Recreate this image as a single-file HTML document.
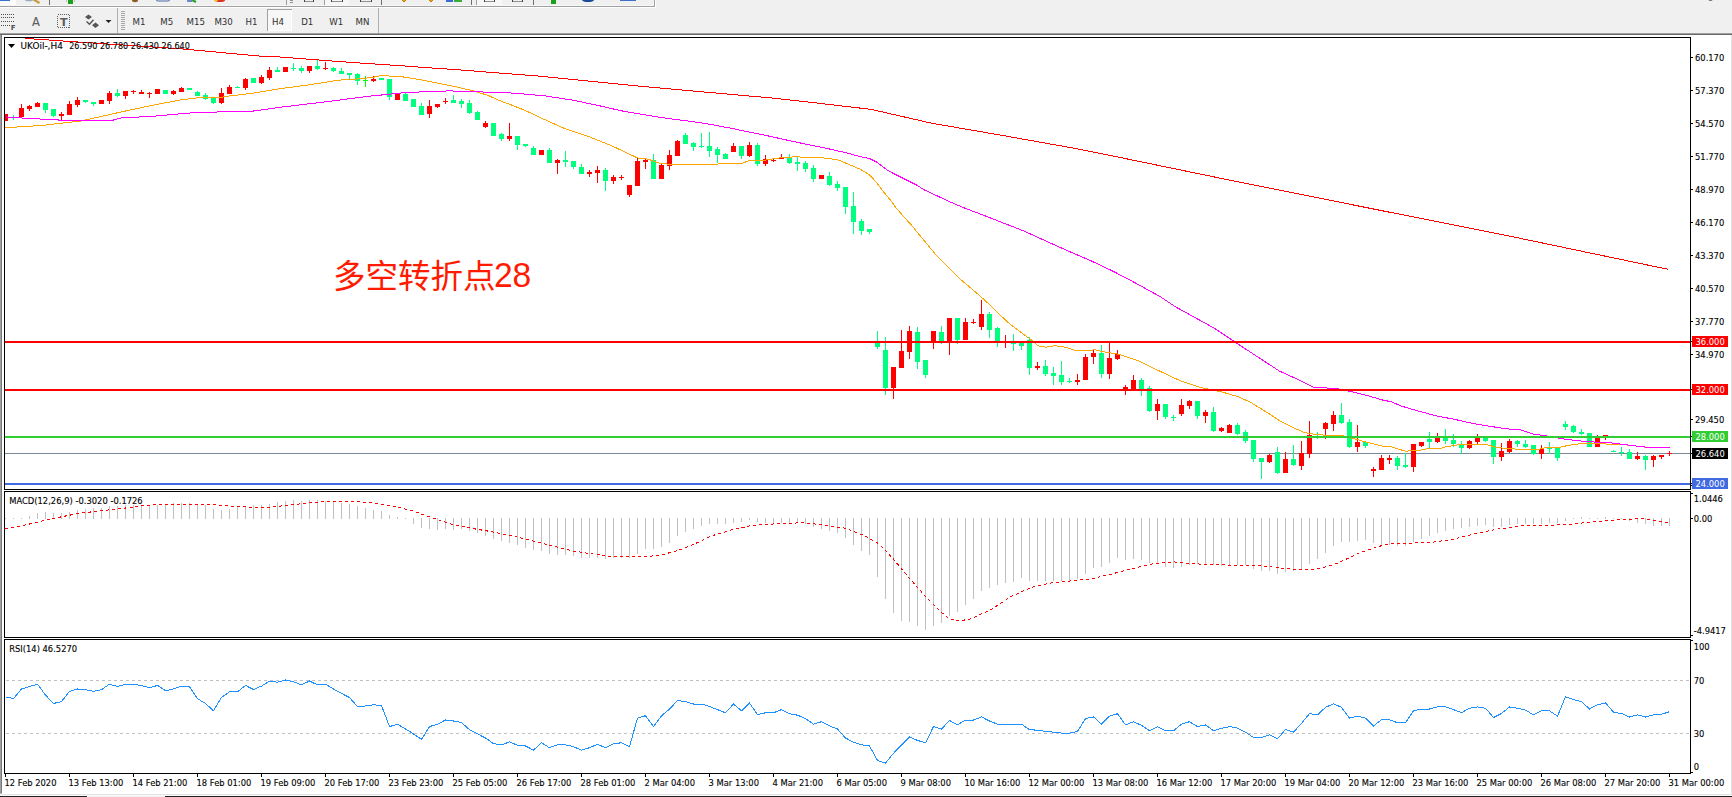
<!DOCTYPE html>
<html><head><meta charset="utf-8"><title>UKOil H4</title><style>html,body{margin:0;padding:0;background:#f0f0f0;}body{width:1732px;height:797px;overflow:hidden;position:relative;}svg text{shape-rendering:auto;}</style></head><body>
<svg width="1732" height="797" viewBox="0 0 1732 797" font-family="'DejaVu Sans', 'Liberation Sans', sans-serif" shape-rendering="crispEdges" style="position:absolute;left:0;top:0">
<defs><clipPath id="cm"><rect x="5" y="38" width="1685" height="451"/></clipPath><clipPath id="cd"><rect x="5" y="492" width="1685" height="145"/></clipPath><clipPath id="cr"><rect x="5" y="640" width="1685" height="133"/></clipPath><clipPath id="cax"><rect x="1691" y="38" width="40" height="452"/></clipPath></defs>
<rect x="0" y="0" width="1732" height="797" fill="#f0f0f0"/>
<rect x="0" y="6" width="654" height="1" fill="#a0a0a0"/>
<rect x="654" y="0" width="1" height="7" fill="#a0a0a0"/>
<rect x="0" y="0" width="16" height="6" fill="#fbfbfb"/>
<rect x="0" y="0" width="10" height="1" fill="#3a70c8"/>
<ellipse cx="29" cy="0" rx="4" ry="1.3" fill="#9aa8c0" shape-rendering="auto"/>
<path d="M33.5,-0.5 L39.5,3" stroke="#c89b3c" stroke-width="2.2" fill="none" shape-rendering="auto"/>
<rect x="49" y="0" width="1" height="5" fill="#707070"/>
<rect x="68" y="0" width="5" height="4" fill="#1aa01a"/>
<rect x="66" y="0" width="1" height="2" fill="#c0c0c0"/>
<rect x="74" y="0" width="1" height="2" fill="#c0c0c0"/>
<ellipse cx="135" cy="0" rx="3" ry="2.2" fill="#8a5a20" shape-rendering="auto"/>
<rect x="156" y="-3" width="14" height="4" rx="2" fill="none" stroke="#4a6aa8" shape-rendering="auto"/>
<path d="M187,1 L192,1" stroke="#6a8ad0" stroke-width="2" shape-rendering="auto"/><path d="M192,0 L196,2" stroke="#2aa02a" stroke-width="2" shape-rendering="auto"/>
<ellipse cx="220" cy="0" rx="5" ry="2" fill="#e03020" shape-rendering="auto"/><ellipse cx="216" cy="0" rx="2" ry="1.5" fill="#f0c020" shape-rendering="auto"/>
<rect x="286" y="0" width="1" height="6" fill="#a0a0a0"/>
<rect x="290" y="0" width="3" height="1" fill="#909090"/>
<rect x="290" y="2" width="3" height="1" fill="#909090"/>
<rect x="304" y="0" width="1" height="2" fill="#404040"/>
<rect x="305" y="1" width="8" height="1" fill="#909090"/>
<rect x="313" y="0" width="1" height="2" fill="#404040"/>
<rect x="324" y="0" width="25" height="5" fill="#f7f7f7"/>
<rect x="324" y="0" width="1" height="5" fill="#a0a0a0"/>
<rect x="331" y="0" width="1" height="2" fill="#404040"/>
<rect x="332" y="1" width="10" height="1" fill="#909090"/>
<rect x="342" y="0" width="1" height="2" fill="#404040"/>
<rect x="360" y="0" width="1" height="2" fill="#404040"/>
<rect x="361" y="1" width="10" height="1" fill="#909090"/>
<rect x="371" y="0" width="1" height="2" fill="#404040"/>
<rect x="381" y="0" width="1" height="5" fill="#707070"/>
<path d="M402,0 L404,2 L406,0" fill="#e0a020" stroke="#c08000" shape-rendering="auto"/>
<path d="M429,0 L431,2 L433,0" fill="#e0a020" stroke="#c08000" shape-rendering="auto"/>
<rect x="446" y="0" width="7" height="2" fill="#3a6ad8"/>
<rect x="454" y="0" width="8" height="2" fill="#3aaa3a"/>
<rect x="471" y="0" width="1" height="5" fill="#707070"/>
<rect x="476" y="0" width="26" height="5" fill="#f7f7f7"/>
<rect x="476" y="0" width="1" height="5" fill="#a0a0a0"/>
<rect x="484" y="0" width="1" height="2" fill="#404040"/>
<rect x="485" y="1" width="9" height="1" fill="#909090"/>
<rect x="494" y="0" width="1" height="2" fill="#404040"/>
<rect x="512" y="0" width="1" height="2" fill="#404040"/>
<rect x="513" y="1" width="9" height="1" fill="#909090"/>
<rect x="522" y="0" width="1" height="2" fill="#404040"/>
<rect x="533" y="0" width="1" height="5" fill="#707070"/>
<rect x="551" y="0" width="5" height="4" fill="#1aa01a"/>
<ellipse cx="588" cy="0" rx="6" ry="2" fill="#1a4a9a" shape-rendering="auto"/>
<rect x="620" y="0" width="16" height="1" fill="#3a70c8"/>
<ellipse cx="1710.5" cy="0" rx="2" ry="1" fill="#707070" shape-rendering="auto"/>
<rect x="0" y="7" width="656" height="1" fill="#ffffff"/>
<rect x="655" y="0" width="1" height="7" fill="#ffffff"/>
<rect x="0" y="5" width="653" height="1" fill="#f8f8f8"/>
<rect x="653" y="0" width="1" height="5" fill="#f6f6f6"/>
<line x1="1" y1="14.5" x2="14" y2="14.5" stroke="#505050" stroke-dasharray="1,1"/>
<line x1="1" y1="17.5" x2="14" y2="17.5" stroke="#505050" stroke-dasharray="1,1"/>
<line x1="1" y1="21.5" x2="14" y2="21.5" stroke="#505050" stroke-dasharray="1,1"/>
<line x1="1" y1="25.5" x2="10" y2="25.5" stroke="#505050" stroke-dasharray="1,1"/>
<text x="10.8" y="29.8" fill="#505050" font-size="7" font-weight="bold">F</text>
<text x="32" y="25.5" fill="#606060" font-size="11.5" stroke="#606060" stroke-width="0.12">A</text>
<rect x="57.5" y="14.5" width="12" height="13" fill="none" stroke="#606060" stroke-dasharray="1,1"/>
<text x="60" y="25.5" fill="#606060" font-size="11" stroke="#606060" stroke-width="0.12" font-weight="bold">T</text>
<path d="M85,17 L88.5,14.5 L92,17 L88.5,19.5 Z M92,25.3 L95.5,22.6 L99,25.3 L95.5,28 Z" fill="#555" shape-rendering="auto"/>
<path d="M86.5,21.5 L89.5,24.3 L93.5,19.8" stroke="#555" stroke-width="1.4" fill="none" shape-rendering="auto"/>
<path d="M105.5,20 L111.5,20 L108.5,23 Z" fill="#222" shape-rendering="auto"/>
<rect x="117" y="8" width="1" height="25" fill="#b0b0b0"/>
<rect x="121" y="11" width="4" height="1" fill="#a8a8a8"/>
<rect x="121" y="13" width="4" height="1" fill="#a8a8a8"/>
<rect x="121" y="15" width="4" height="1" fill="#a8a8a8"/>
<rect x="121" y="17" width="4" height="1" fill="#a8a8a8"/>
<rect x="121" y="19" width="4" height="1" fill="#a8a8a8"/>
<rect x="121" y="21" width="4" height="1" fill="#a8a8a8"/>
<rect x="121" y="23" width="4" height="1" fill="#a8a8a8"/>
<rect x="121" y="25" width="4" height="1" fill="#a8a8a8"/>
<rect x="121" y="27" width="4" height="1" fill="#a8a8a8"/>
<rect x="121" y="29" width="4" height="1" fill="#a8a8a8"/>
<rect x="267" y="9" width="25" height="22" fill="#f7f7f7"/>
<rect x="267" y="9" width="25" height="1" fill="#a0a0a0"/>
<rect x="267" y="9" width="1" height="22" fill="#a0a0a0"/>
<rect x="291" y="10" width="1" height="21" fill="#ffffff"/>
<rect x="268" y="30" width="24" height="1" fill="#ffffff"/>
<text transform="translate(132.5,25) scale(0.93,1)" fill="#303030" font-size="9.3">M1</text>
<text transform="translate(160.3,25) scale(0.93,1)" fill="#303030" font-size="9.3">M5</text>
<text transform="translate(186.5,25) scale(0.93,1)" fill="#303030" font-size="9.3">M15</text>
<text transform="translate(214.4,25) scale(0.93,1)" fill="#303030" font-size="9.3">M30</text>
<text transform="translate(245.6,25) scale(0.93,1)" fill="#303030" font-size="9.3">H1</text>
<text transform="translate(272.1,25) scale(0.93,1)" fill="#303030" font-size="9.3">H4</text>
<text transform="translate(301.2,25) scale(0.93,1)" fill="#303030" font-size="9.3">D1</text>
<text transform="translate(329.2,25) scale(0.93,1)" fill="#303030" font-size="9.3">W1</text>
<text transform="translate(355.5,25) scale(0.93,1)" fill="#303030" font-size="9.3">MN</text>
<rect x="378" y="8" width="1" height="25" fill="#b0b0b0"/>
<rect x="0" y="33" width="1732" height="1" fill="#a0a0a0"/>
<rect x="0" y="34" width="1732" height="1" fill="#696969"/>
<rect x="0" y="35" width="1" height="759" fill="#a0a0a0"/>
<rect x="1" y="35" width="1" height="759" fill="#7a7a7a"/>
<rect x="0" y="794" width="2" height="2" fill="#f4f4f4"/>
<rect x="2" y="35" width="1729" height="759" fill="#ffffff"/>
<rect x="1731" y="35" width="1" height="760" fill="#e3e3e3"/>
<rect x="2" y="794" width="1729" height="1" fill="#e3e3e3"/>
<rect x="1" y="793" width="1" height="1" fill="#c8c8c8"/>
<rect x="2" y="795" width="1730" height="1" fill="#fafafa"/>
<rect x="0" y="796" width="87" height="1" fill="#202020"/>
<rect x="87" y="796" width="78" height="1" fill="#f0f0f0"/>
<rect x="165" y="796" width="1567" height="1" fill="#202020"/>
<rect x="4" y="37" width="1687" height="1" fill="#000"/>
<rect x="4" y="489" width="1687" height="1" fill="#000"/>
<rect x="4" y="37" width="1" height="453" fill="#000"/>
<rect x="1690" y="37" width="1" height="453" fill="#000"/>
<rect x="4" y="491" width="1687" height="1" fill="#000"/>
<rect x="4" y="637" width="1687" height="1" fill="#000"/>
<rect x="4" y="491" width="1" height="147" fill="#000"/>
<rect x="1690" y="491" width="1" height="147" fill="#000"/>
<rect x="4" y="639" width="1687" height="1" fill="#000"/>
<rect x="4" y="773" width="1687" height="1" fill="#000"/>
<rect x="4" y="639" width="1" height="135" fill="#000"/>
<rect x="1690" y="639" width="1" height="135" fill="#000"/>
<g clip-path="url(#cm)">
<rect x="5" y="453" width="1685" height="1" fill="#778899"/>
<rect x="5" y="114" width="1" height="7" fill="#ff0000"/>
<rect x="3" y="114" width="5" height="7" fill="#ff0000"/>
<rect x="13" y="115" width="1" height="5" fill="#00ff7f"/>
<rect x="11" y="117" width="5" height="1" fill="#00ff7f"/>
<rect x="21" y="104" width="1" height="13" fill="#ff0000"/>
<rect x="19" y="108" width="5" height="9" fill="#ff0000"/>
<rect x="29" y="105" width="1" height="6" fill="#ff0000"/>
<rect x="27" y="106" width="5" height="3" fill="#ff0000"/>
<rect x="37" y="102" width="1" height="5" fill="#ff0000"/>
<rect x="35" y="103" width="5" height="4" fill="#ff0000"/>
<rect x="45" y="103" width="1" height="10" fill="#00ff7f"/>
<rect x="43" y="103" width="5" height="7" fill="#00ff7f"/>
<rect x="53" y="109" width="1" height="8" fill="#00ff7f"/>
<rect x="51" y="109" width="5" height="7" fill="#00ff7f"/>
<rect x="61" y="112" width="1" height="8" fill="#ff0000"/>
<rect x="59" y="114" width="5" height="2" fill="#ff0000"/>
<rect x="69" y="101" width="1" height="14" fill="#ff0000"/>
<rect x="67" y="104" width="5" height="11" fill="#ff0000"/>
<rect x="77" y="97" width="1" height="10" fill="#ff0000"/>
<rect x="75" y="100" width="5" height="5" fill="#ff0000"/>
<rect x="85" y="100" width="1" height="3" fill="#00ff7f"/>
<rect x="83" y="100" width="5" height="2" fill="#00ff7f"/>
<rect x="93" y="102" width="1" height="4" fill="#00ff7f"/>
<rect x="91" y="102" width="5" height="2" fill="#00ff7f"/>
<rect x="101" y="100" width="1" height="4" fill="#ff0000"/>
<rect x="99" y="100" width="5" height="4" fill="#ff0000"/>
<rect x="109" y="91" width="1" height="13" fill="#ff0000"/>
<rect x="107" y="93" width="5" height="8" fill="#ff0000"/>
<rect x="117" y="89" width="1" height="8" fill="#00ff7f"/>
<rect x="115" y="93" width="5" height="3" fill="#00ff7f"/>
<rect x="125" y="91" width="1" height="8" fill="#ff0000"/>
<rect x="123" y="91" width="5" height="5" fill="#ff0000"/>
<rect x="133" y="90" width="1" height="4" fill="#ff0000"/>
<rect x="131" y="91" width="5" height="1" fill="#ff0000"/>
<rect x="141" y="90" width="1" height="4" fill="#ff0000"/>
<rect x="139" y="92" width="5" height="2" fill="#ff0000"/>
<rect x="149" y="92" width="1" height="6" fill="#ff0000"/>
<rect x="147" y="93" width="5" height="1" fill="#ff0000"/>
<rect x="157" y="89" width="1" height="5" fill="#ff0000"/>
<rect x="155" y="89" width="5" height="5" fill="#ff0000"/>
<rect x="165" y="90" width="1" height="4" fill="#00ff7f"/>
<rect x="163" y="90" width="5" height="4" fill="#00ff7f"/>
<rect x="173" y="90" width="1" height="5" fill="#ff0000"/>
<rect x="171" y="91" width="5" height="3" fill="#ff0000"/>
<rect x="181" y="87" width="1" height="5" fill="#ff0000"/>
<rect x="179" y="88" width="5" height="4" fill="#ff0000"/>
<rect x="189" y="88" width="1" height="2" fill="#00ff7f"/>
<rect x="187" y="88" width="5" height="2" fill="#00ff7f"/>
<rect x="197" y="91" width="1" height="5" fill="#00ff7f"/>
<rect x="195" y="92" width="5" height="4" fill="#00ff7f"/>
<rect x="205" y="93" width="1" height="7" fill="#00ff7f"/>
<rect x="203" y="95" width="5" height="4" fill="#00ff7f"/>
<rect x="213" y="98" width="1" height="6" fill="#00ff7f"/>
<rect x="211" y="98" width="5" height="5" fill="#00ff7f"/>
<rect x="221" y="88" width="1" height="16" fill="#ff0000"/>
<rect x="219" y="93" width="5" height="10" fill="#ff0000"/>
<rect x="229" y="85" width="1" height="9" fill="#ff0000"/>
<rect x="227" y="87" width="5" height="7" fill="#ff0000"/>
<rect x="237" y="86" width="1" height="2" fill="#00ff7f"/>
<rect x="235" y="87" width="5" height="1" fill="#00ff7f"/>
<rect x="245" y="78" width="1" height="12" fill="#ff0000"/>
<rect x="243" y="79" width="5" height="9" fill="#ff0000"/>
<rect x="253" y="78" width="1" height="5" fill="#00ff7f"/>
<rect x="251" y="78" width="5" height="5" fill="#00ff7f"/>
<rect x="261" y="75" width="1" height="9" fill="#ff0000"/>
<rect x="259" y="77" width="5" height="6" fill="#ff0000"/>
<rect x="269" y="67" width="1" height="13" fill="#ff0000"/>
<rect x="267" y="70" width="5" height="8" fill="#ff0000"/>
<rect x="277" y="67" width="1" height="5" fill="#00ff7f"/>
<rect x="275" y="70" width="5" height="2" fill="#00ff7f"/>
<rect x="285" y="67" width="1" height="5" fill="#ff0000"/>
<rect x="283" y="67" width="5" height="5" fill="#ff0000"/>
<rect x="293" y="63" width="1" height="8" fill="#00ff7f"/>
<rect x="291" y="68" width="5" height="1" fill="#00ff7f"/>
<rect x="301" y="66" width="1" height="7" fill="#00ff7f"/>
<rect x="299" y="68" width="5" height="3" fill="#00ff7f"/>
<rect x="309" y="66" width="1" height="7" fill="#ff0000"/>
<rect x="307" y="66" width="5" height="5" fill="#ff0000"/>
<rect x="317" y="60" width="1" height="10" fill="#00ff7f"/>
<rect x="315" y="66" width="5" height="3" fill="#00ff7f"/>
<rect x="325" y="62" width="1" height="8" fill="#ff0000"/>
<rect x="323" y="68" width="5" height="1" fill="#ff0000"/>
<rect x="333" y="67" width="1" height="5" fill="#00ff7f"/>
<rect x="331" y="68" width="5" height="3" fill="#00ff7f"/>
<rect x="341" y="68" width="1" height="6" fill="#00ff7f"/>
<rect x="339" y="71" width="5" height="3" fill="#00ff7f"/>
<rect x="349" y="73" width="1" height="6" fill="#00ff7f"/>
<rect x="347" y="73" width="5" height="2" fill="#00ff7f"/>
<rect x="357" y="73" width="1" height="12" fill="#00ff7f"/>
<rect x="355" y="74" width="5" height="7" fill="#00ff7f"/>
<rect x="365" y="76" width="1" height="11" fill="#00ff00"/>
<rect x="363" y="80" width="5" height="1" fill="#00ff00"/>
<rect x="373" y="76" width="1" height="6" fill="#ff0000"/>
<rect x="371" y="79" width="5" height="2" fill="#ff0000"/>
<rect x="381" y="78" width="1" height="2" fill="#00ff7f"/>
<rect x="379" y="78" width="5" height="2" fill="#00ff7f"/>
<rect x="389" y="79" width="1" height="21" fill="#00ff7f"/>
<rect x="387" y="79" width="5" height="18" fill="#00ff7f"/>
<rect x="397" y="94" width="1" height="6" fill="#ff0000"/>
<rect x="395" y="94" width="5" height="6" fill="#ff0000"/>
<rect x="405" y="93" width="1" height="8" fill="#00ff7f"/>
<rect x="403" y="94" width="5" height="7" fill="#00ff7f"/>
<rect x="413" y="99" width="1" height="8" fill="#00ff7f"/>
<rect x="411" y="99" width="5" height="8" fill="#00ff7f"/>
<rect x="421" y="103" width="1" height="12" fill="#00ff7f"/>
<rect x="419" y="106" width="5" height="9" fill="#00ff7f"/>
<rect x="429" y="100" width="1" height="18" fill="#ff0000"/>
<rect x="427" y="106" width="5" height="8" fill="#ff0000"/>
<rect x="437" y="104" width="1" height="4" fill="#ff0000"/>
<rect x="435" y="104" width="5" height="3" fill="#ff0000"/>
<rect x="445" y="98" width="1" height="6" fill="#ff0000"/>
<rect x="443" y="101" width="5" height="1" fill="#ff0000"/>
<rect x="453" y="95" width="1" height="8" fill="#00ff7f"/>
<rect x="451" y="100" width="5" height="3" fill="#00ff7f"/>
<rect x="461" y="99" width="1" height="9" fill="#00ff7f"/>
<rect x="459" y="101" width="5" height="3" fill="#00ff7f"/>
<rect x="469" y="100" width="1" height="14" fill="#00ff7f"/>
<rect x="467" y="103" width="5" height="10" fill="#00ff7f"/>
<rect x="477" y="111" width="1" height="9" fill="#00ff7f"/>
<rect x="475" y="112" width="5" height="8" fill="#00ff7f"/>
<rect x="485" y="121" width="1" height="7" fill="#ff0000"/>
<rect x="483" y="123" width="5" height="4" fill="#ff0000"/>
<rect x="493" y="123" width="1" height="13" fill="#00ff7f"/>
<rect x="491" y="123" width="5" height="13" fill="#00ff7f"/>
<rect x="501" y="133" width="1" height="8" fill="#00ff7f"/>
<rect x="499" y="134" width="5" height="5" fill="#00ff7f"/>
<rect x="509" y="123" width="1" height="18" fill="#ff0000"/>
<rect x="507" y="136" width="5" height="3" fill="#ff0000"/>
<rect x="517" y="136" width="1" height="14" fill="#00ff7f"/>
<rect x="515" y="136" width="5" height="9" fill="#00ff7f"/>
<rect x="525" y="144" width="1" height="3" fill="#00ff7f"/>
<rect x="523" y="144" width="5" height="2" fill="#00ff7f"/>
<rect x="533" y="146" width="1" height="9" fill="#00ff7f"/>
<rect x="531" y="148" width="5" height="7" fill="#00ff7f"/>
<rect x="541" y="150" width="1" height="5" fill="#ff0000"/>
<rect x="539" y="150" width="5" height="5" fill="#ff0000"/>
<rect x="549" y="148" width="1" height="15" fill="#00ff7f"/>
<rect x="547" y="150" width="5" height="13" fill="#00ff7f"/>
<rect x="557" y="159" width="1" height="15" fill="#ff0000"/>
<rect x="555" y="160" width="5" height="3" fill="#ff0000"/>
<rect x="565" y="151" width="1" height="16" fill="#00ff7f"/>
<rect x="563" y="160" width="5" height="2" fill="#00ff7f"/>
<rect x="573" y="161" width="1" height="8" fill="#00ff7f"/>
<rect x="571" y="161" width="5" height="6" fill="#00ff7f"/>
<rect x="581" y="164" width="1" height="10" fill="#00ff7f"/>
<rect x="579" y="167" width="5" height="7" fill="#00ff7f"/>
<rect x="589" y="170" width="1" height="7" fill="#ff0000"/>
<rect x="587" y="172" width="5" height="2" fill="#ff0000"/>
<rect x="597" y="166" width="1" height="17" fill="#ff0000"/>
<rect x="595" y="170" width="5" height="3" fill="#ff0000"/>
<rect x="605" y="168" width="1" height="23" fill="#00ff7f"/>
<rect x="603" y="170" width="5" height="11" fill="#00ff7f"/>
<rect x="613" y="175" width="1" height="9" fill="#ff0000"/>
<rect x="611" y="177" width="5" height="4" fill="#ff0000"/>
<rect x="621" y="175" width="1" height="5" fill="#ff0000"/>
<rect x="619" y="177" width="5" height="1" fill="#ff0000"/>
<rect x="629" y="185" width="1" height="12" fill="#ff0000"/>
<rect x="627" y="185" width="5" height="10" fill="#ff0000"/>
<rect x="637" y="158" width="1" height="28" fill="#ff0000"/>
<rect x="635" y="161" width="5" height="25" fill="#ff0000"/>
<rect x="645" y="159" width="1" height="10" fill="#ff0000"/>
<rect x="643" y="160" width="5" height="2" fill="#ff0000"/>
<rect x="653" y="154" width="1" height="25" fill="#00ff7f"/>
<rect x="651" y="160" width="5" height="19" fill="#00ff7f"/>
<rect x="661" y="164" width="1" height="15" fill="#ff0000"/>
<rect x="659" y="165" width="5" height="14" fill="#ff0000"/>
<rect x="669" y="150" width="1" height="20" fill="#ff0000"/>
<rect x="667" y="155" width="5" height="11" fill="#ff0000"/>
<rect x="677" y="140" width="1" height="16" fill="#ff0000"/>
<rect x="675" y="141" width="5" height="15" fill="#ff0000"/>
<rect x="685" y="133" width="1" height="11" fill="#00ff7f"/>
<rect x="683" y="135" width="5" height="9" fill="#00ff7f"/>
<rect x="693" y="142" width="1" height="9" fill="#00ff7f"/>
<rect x="691" y="143" width="5" height="4" fill="#00ff7f"/>
<rect x="701" y="133" width="1" height="15" fill="#00ff7f"/>
<rect x="699" y="146" width="5" height="1" fill="#00ff7f"/>
<rect x="709" y="132" width="1" height="25" fill="#00ff7f"/>
<rect x="707" y="146" width="5" height="5" fill="#00ff7f"/>
<rect x="717" y="147" width="1" height="16" fill="#00ff7f"/>
<rect x="715" y="149" width="5" height="6" fill="#00ff7f"/>
<rect x="725" y="153" width="1" height="6" fill="#00ff7f"/>
<rect x="723" y="154" width="5" height="5" fill="#00ff7f"/>
<rect x="733" y="143" width="1" height="9" fill="#ff0000"/>
<rect x="731" y="146" width="5" height="6" fill="#ff0000"/>
<rect x="741" y="146" width="1" height="13" fill="#00ff7f"/>
<rect x="739" y="146" width="5" height="10" fill="#00ff7f"/>
<rect x="749" y="142" width="1" height="15" fill="#ff0000"/>
<rect x="747" y="145" width="5" height="11" fill="#ff0000"/>
<rect x="757" y="143" width="1" height="23" fill="#00ff7f"/>
<rect x="755" y="145" width="5" height="19" fill="#00ff7f"/>
<rect x="765" y="155" width="1" height="11" fill="#ff0000"/>
<rect x="763" y="159" width="5" height="5" fill="#ff0000"/>
<rect x="773" y="159" width="1" height="3" fill="#ff0000"/>
<rect x="771" y="160" width="5" height="1" fill="#ff0000"/>
<rect x="781" y="154" width="1" height="5" fill="#ff0000"/>
<rect x="779" y="158" width="5" height="1" fill="#ff0000"/>
<rect x="789" y="154" width="1" height="10" fill="#00ff7f"/>
<rect x="787" y="158" width="5" height="5" fill="#00ff7f"/>
<rect x="797" y="157" width="1" height="14" fill="#00ff7f"/>
<rect x="795" y="162" width="5" height="2" fill="#00ff7f"/>
<rect x="805" y="161" width="1" height="11" fill="#00ff7f"/>
<rect x="803" y="163" width="5" height="6" fill="#00ff7f"/>
<rect x="813" y="165" width="1" height="17" fill="#00ff7f"/>
<rect x="811" y="168" width="5" height="11" fill="#00ff7f"/>
<rect x="821" y="175" width="1" height="4" fill="#ff0000"/>
<rect x="819" y="175" width="5" height="4" fill="#ff0000"/>
<rect x="829" y="172" width="1" height="14" fill="#00ff7f"/>
<rect x="827" y="176" width="5" height="9" fill="#00ff7f"/>
<rect x="837" y="181" width="1" height="10" fill="#00ff7f"/>
<rect x="835" y="184" width="5" height="4" fill="#00ff7f"/>
<rect x="845" y="187" width="1" height="27" fill="#00ff7f"/>
<rect x="843" y="187" width="5" height="20" fill="#00ff7f"/>
<rect x="853" y="192" width="1" height="42" fill="#00ff7f"/>
<rect x="851" y="206" width="5" height="16" fill="#00ff7f"/>
<rect x="861" y="219" width="1" height="16" fill="#00ff7f"/>
<rect x="859" y="221" width="5" height="10" fill="#00ff7f"/>
<rect x="869" y="229" width="1" height="5" fill="#00ff7f"/>
<rect x="867" y="229" width="5" height="3" fill="#00ff7f"/>
<rect x="877" y="331" width="1" height="18" fill="#00ff7f"/>
<rect x="875" y="343" width="5" height="4" fill="#00ff7f"/>
<rect x="885" y="337" width="1" height="58" fill="#00ff7f"/>
<rect x="883" y="350" width="5" height="38" fill="#00ff7f"/>
<rect x="893" y="367" width="1" height="32" fill="#ff0000"/>
<rect x="891" y="367" width="5" height="21" fill="#ff0000"/>
<rect x="901" y="330" width="1" height="38" fill="#ff0000"/>
<rect x="899" y="351" width="5" height="17" fill="#ff0000"/>
<rect x="909" y="326" width="1" height="33" fill="#ff0000"/>
<rect x="907" y="331" width="5" height="21" fill="#ff0000"/>
<rect x="917" y="327" width="1" height="42" fill="#00ff7f"/>
<rect x="915" y="332" width="5" height="30" fill="#00ff7f"/>
<rect x="925" y="360" width="1" height="18" fill="#00ff7f"/>
<rect x="923" y="360" width="5" height="15" fill="#00ff7f"/>
<rect x="933" y="331" width="1" height="18" fill="#ff0000"/>
<rect x="931" y="331" width="5" height="11" fill="#ff0000"/>
<rect x="941" y="326" width="1" height="18" fill="#00ff7f"/>
<rect x="939" y="332" width="5" height="10" fill="#00ff7f"/>
<rect x="949" y="318" width="1" height="37" fill="#ff0000"/>
<rect x="947" y="318" width="5" height="24" fill="#ff0000"/>
<rect x="957" y="318" width="1" height="26" fill="#00ff7f"/>
<rect x="955" y="318" width="5" height="22" fill="#00ff7f"/>
<rect x="965" y="318" width="1" height="22" fill="#ff0000"/>
<rect x="963" y="322" width="5" height="18" fill="#ff0000"/>
<rect x="973" y="319" width="1" height="5" fill="#ff0000"/>
<rect x="971" y="322" width="5" height="1" fill="#ff0000"/>
<rect x="981" y="300" width="1" height="30" fill="#ff0000"/>
<rect x="979" y="314" width="5" height="13" fill="#ff0000"/>
<rect x="989" y="312" width="1" height="26" fill="#00ff7f"/>
<rect x="987" y="314" width="5" height="16" fill="#00ff7f"/>
<rect x="997" y="327" width="1" height="20" fill="#00ff7f"/>
<rect x="995" y="328" width="5" height="13" fill="#00ff7f"/>
<rect x="1005" y="335" width="1" height="13" fill="#ff0000"/>
<rect x="1003" y="341" width="5" height="1" fill="#ff0000"/>
<rect x="1013" y="334" width="1" height="17" fill="#00ff7f"/>
<rect x="1011" y="343" width="5" height="1" fill="#00ff7f"/>
<rect x="1021" y="343" width="1" height="7" fill="#00ff7f"/>
<rect x="1019" y="343" width="5" height="3" fill="#00ff7f"/>
<rect x="1029" y="337" width="1" height="38" fill="#00ff7f"/>
<rect x="1027" y="340" width="5" height="28" fill="#00ff7f"/>
<rect x="1037" y="362" width="1" height="8" fill="#ff0000"/>
<rect x="1035" y="366" width="5" height="2" fill="#ff0000"/>
<rect x="1045" y="360" width="1" height="16" fill="#00ff7f"/>
<rect x="1043" y="366" width="5" height="8" fill="#00ff7f"/>
<rect x="1053" y="367" width="1" height="18" fill="#00ff7f"/>
<rect x="1051" y="373" width="5" height="3" fill="#00ff7f"/>
<rect x="1061" y="361" width="1" height="24" fill="#00ff7f"/>
<rect x="1059" y="375" width="5" height="7" fill="#00ff7f"/>
<rect x="1069" y="378" width="1" height="5" fill="#00ff7f"/>
<rect x="1067" y="381" width="5" height="1" fill="#00ff7f"/>
<rect x="1077" y="374" width="1" height="11" fill="#ff0000"/>
<rect x="1075" y="380" width="5" height="2" fill="#ff0000"/>
<rect x="1085" y="354" width="1" height="26" fill="#ff0000"/>
<rect x="1083" y="357" width="5" height="23" fill="#ff0000"/>
<rect x="1093" y="350" width="1" height="14" fill="#ff0000"/>
<rect x="1091" y="353" width="5" height="4" fill="#ff0000"/>
<rect x="1101" y="345" width="1" height="33" fill="#00ff7f"/>
<rect x="1099" y="353" width="5" height="21" fill="#00ff7f"/>
<rect x="1109" y="343" width="1" height="36" fill="#ff0000"/>
<rect x="1107" y="358" width="5" height="16" fill="#ff0000"/>
<rect x="1117" y="350" width="1" height="10" fill="#ff0000"/>
<rect x="1115" y="354" width="5" height="5" fill="#ff0000"/>
<rect x="1125" y="385" width="1" height="10" fill="#ff0000"/>
<rect x="1123" y="387" width="5" height="2" fill="#ff0000"/>
<rect x="1133" y="375" width="1" height="15" fill="#ff0000"/>
<rect x="1131" y="380" width="5" height="10" fill="#ff0000"/>
<rect x="1141" y="378" width="1" height="18" fill="#00ff7f"/>
<rect x="1139" y="380" width="5" height="9" fill="#00ff7f"/>
<rect x="1149" y="386" width="1" height="26" fill="#00ff7f"/>
<rect x="1147" y="388" width="5" height="23" fill="#00ff7f"/>
<rect x="1157" y="399" width="1" height="21" fill="#ff0000"/>
<rect x="1155" y="404" width="5" height="7" fill="#ff0000"/>
<rect x="1165" y="404" width="1" height="15" fill="#00ff7f"/>
<rect x="1163" y="404" width="5" height="13" fill="#00ff7f"/>
<rect x="1173" y="415" width="1" height="6" fill="#00ff7f"/>
<rect x="1171" y="417" width="5" height="1" fill="#00ff7f"/>
<rect x="1181" y="399" width="1" height="17" fill="#ff0000"/>
<rect x="1179" y="405" width="5" height="9" fill="#ff0000"/>
<rect x="1189" y="400" width="1" height="9" fill="#ff0000"/>
<rect x="1187" y="401" width="5" height="5" fill="#ff0000"/>
<rect x="1197" y="401" width="1" height="18" fill="#00ff7f"/>
<rect x="1195" y="401" width="5" height="15" fill="#00ff7f"/>
<rect x="1205" y="410" width="1" height="13" fill="#ff0000"/>
<rect x="1203" y="412" width="5" height="4" fill="#ff0000"/>
<rect x="1213" y="407" width="1" height="25" fill="#00ff7f"/>
<rect x="1211" y="412" width="5" height="19" fill="#00ff7f"/>
<rect x="1221" y="427" width="1" height="5" fill="#ff0000"/>
<rect x="1219" y="428" width="5" height="3" fill="#ff0000"/>
<rect x="1229" y="424" width="1" height="9" fill="#ff0000"/>
<rect x="1227" y="425" width="5" height="8" fill="#ff0000"/>
<rect x="1237" y="423" width="1" height="12" fill="#00ff7f"/>
<rect x="1235" y="425" width="5" height="9" fill="#00ff7f"/>
<rect x="1245" y="430" width="1" height="13" fill="#00ff7f"/>
<rect x="1243" y="432" width="5" height="9" fill="#00ff7f"/>
<rect x="1253" y="440" width="1" height="22" fill="#00ff7f"/>
<rect x="1251" y="440" width="5" height="19" fill="#00ff7f"/>
<rect x="1261" y="458" width="1" height="21" fill="#00ff7f"/>
<rect x="1259" y="458" width="5" height="4" fill="#00ff7f"/>
<rect x="1269" y="454" width="1" height="9" fill="#ff0000"/>
<rect x="1267" y="455" width="5" height="7" fill="#ff0000"/>
<rect x="1277" y="447" width="1" height="27" fill="#00ff7f"/>
<rect x="1275" y="452" width="5" height="21" fill="#00ff7f"/>
<rect x="1285" y="452" width="1" height="21" fill="#ff0000"/>
<rect x="1283" y="459" width="5" height="14" fill="#ff0000"/>
<rect x="1293" y="445" width="1" height="21" fill="#00ff7f"/>
<rect x="1291" y="459" width="5" height="6" fill="#00ff7f"/>
<rect x="1301" y="441" width="1" height="29" fill="#ff0000"/>
<rect x="1299" y="453" width="5" height="13" fill="#ff0000"/>
<rect x="1309" y="421" width="1" height="37" fill="#ff0000"/>
<rect x="1307" y="435" width="5" height="19" fill="#ff0000"/>
<rect x="1317" y="432" width="1" height="7" fill="#00ff7f"/>
<rect x="1315" y="436" width="5" height="1" fill="#00ff7f"/>
<rect x="1325" y="422" width="1" height="17" fill="#ff0000"/>
<rect x="1323" y="423" width="5" height="6" fill="#ff0000"/>
<rect x="1333" y="411" width="1" height="20" fill="#ff0000"/>
<rect x="1331" y="415" width="5" height="9" fill="#ff0000"/>
<rect x="1341" y="403" width="1" height="21" fill="#00ff7f"/>
<rect x="1339" y="415" width="5" height="8" fill="#00ff7f"/>
<rect x="1349" y="419" width="1" height="29" fill="#00ff7f"/>
<rect x="1347" y="422" width="5" height="25" fill="#00ff7f"/>
<rect x="1357" y="425" width="1" height="27" fill="#ff0000"/>
<rect x="1355" y="442" width="5" height="5" fill="#ff0000"/>
<rect x="1365" y="442" width="1" height="6" fill="#00ff7f"/>
<rect x="1363" y="442" width="5" height="4" fill="#00ff7f"/>
<rect x="1373" y="467" width="1" height="10" fill="#ff0000"/>
<rect x="1371" y="469" width="5" height="2" fill="#ff0000"/>
<rect x="1381" y="455" width="1" height="15" fill="#ff0000"/>
<rect x="1379" y="458" width="5" height="12" fill="#ff0000"/>
<rect x="1389" y="455" width="1" height="9" fill="#ff0000"/>
<rect x="1387" y="458" width="5" height="2" fill="#ff0000"/>
<rect x="1397" y="456" width="1" height="14" fill="#00ff7f"/>
<rect x="1395" y="458" width="5" height="8" fill="#00ff7f"/>
<rect x="1405" y="453" width="1" height="15" fill="#00ff7f"/>
<rect x="1403" y="465" width="5" height="2" fill="#00ff7f"/>
<rect x="1413" y="444" width="1" height="28" fill="#ff0000"/>
<rect x="1411" y="444" width="5" height="23" fill="#ff0000"/>
<rect x="1421" y="442" width="1" height="5" fill="#ff0000"/>
<rect x="1419" y="442" width="5" height="4" fill="#ff0000"/>
<rect x="1429" y="432" width="1" height="16" fill="#00ff7f"/>
<rect x="1427" y="439" width="5" height="3" fill="#00ff7f"/>
<rect x="1437" y="433" width="1" height="10" fill="#ff0000"/>
<rect x="1435" y="438" width="5" height="4" fill="#ff0000"/>
<rect x="1445" y="429" width="1" height="15" fill="#00ff7f"/>
<rect x="1443" y="438" width="5" height="3" fill="#00ff7f"/>
<rect x="1453" y="434" width="1" height="13" fill="#00ff7f"/>
<rect x="1451" y="440" width="5" height="4" fill="#00ff7f"/>
<rect x="1461" y="441" width="1" height="13" fill="#00ff7f"/>
<rect x="1459" y="445" width="5" height="3" fill="#00ff7f"/>
<rect x="1469" y="440" width="1" height="9" fill="#ff0000"/>
<rect x="1467" y="441" width="5" height="7" fill="#ff0000"/>
<rect x="1477" y="434" width="1" height="10" fill="#ff0000"/>
<rect x="1475" y="438" width="5" height="4" fill="#ff0000"/>
<rect x="1485" y="438" width="1" height="4" fill="#00ff7f"/>
<rect x="1483" y="438" width="5" height="3" fill="#00ff7f"/>
<rect x="1493" y="440" width="1" height="24" fill="#00ff7f"/>
<rect x="1491" y="440" width="5" height="17" fill="#00ff7f"/>
<rect x="1501" y="443" width="1" height="18" fill="#ff0000"/>
<rect x="1499" y="451" width="5" height="6" fill="#ff0000"/>
<rect x="1509" y="439" width="1" height="14" fill="#ff0000"/>
<rect x="1507" y="441" width="5" height="11" fill="#ff0000"/>
<rect x="1517" y="440" width="1" height="7" fill="#00ff7f"/>
<rect x="1515" y="441" width="5" height="3" fill="#00ff7f"/>
<rect x="1525" y="440" width="1" height="8" fill="#00ff7f"/>
<rect x="1523" y="444" width="5" height="3" fill="#00ff7f"/>
<rect x="1533" y="445" width="1" height="10" fill="#00ff7f"/>
<rect x="1531" y="445" width="5" height="9" fill="#00ff7f"/>
<rect x="1541" y="445" width="1" height="14" fill="#ff0000"/>
<rect x="1539" y="449" width="5" height="5" fill="#ff0000"/>
<rect x="1549" y="442" width="1" height="12" fill="#00ff7f"/>
<rect x="1547" y="447" width="5" height="2" fill="#00ff7f"/>
<rect x="1557" y="448" width="1" height="13" fill="#00ff7f"/>
<rect x="1555" y="448" width="5" height="10" fill="#00ff7f"/>
<rect x="1565" y="421" width="1" height="9" fill="#00ff7f"/>
<rect x="1563" y="424" width="5" height="3" fill="#00ff7f"/>
<rect x="1573" y="425" width="1" height="8" fill="#00ff7f"/>
<rect x="1571" y="426" width="5" height="6" fill="#00ff7f"/>
<rect x="1581" y="429" width="1" height="6" fill="#00ff7f"/>
<rect x="1579" y="432" width="5" height="2" fill="#00ff7f"/>
<rect x="1589" y="433" width="1" height="14" fill="#00ff7f"/>
<rect x="1587" y="433" width="5" height="14" fill="#00ff7f"/>
<rect x="1597" y="435" width="1" height="12" fill="#ff0000"/>
<rect x="1595" y="438" width="5" height="9" fill="#ff0000"/>
<rect x="1605" y="435" width="1" height="5" fill="#ff0000"/>
<rect x="1603" y="435" width="5" height="3" fill="#ff0000"/>
<rect x="1613" y="450" width="1" height="2" fill="#00ff7f"/>
<rect x="1611" y="451" width="5" height="1" fill="#00ff7f"/>
<rect x="1621" y="447" width="1" height="9" fill="#00ff7f"/>
<rect x="1619" y="452" width="5" height="1" fill="#00ff7f"/>
<rect x="1629" y="449" width="1" height="10" fill="#00ff7f"/>
<rect x="1627" y="452" width="5" height="7" fill="#00ff7f"/>
<rect x="1637" y="452" width="1" height="8" fill="#ff0000"/>
<rect x="1635" y="456" width="5" height="3" fill="#ff0000"/>
<rect x="1645" y="455" width="1" height="15" fill="#00ff7f"/>
<rect x="1643" y="456" width="5" height="4" fill="#00ff7f"/>
<rect x="1653" y="455" width="1" height="12" fill="#ff0000"/>
<rect x="1651" y="456" width="5" height="4" fill="#ff0000"/>
<rect x="1661" y="455" width="1" height="4" fill="#ff0000"/>
<rect x="1659" y="455" width="5" height="2" fill="#ff0000"/>
<rect x="1669" y="451" width="1" height="5" fill="#ff0000"/>
<rect x="1667" y="453" width="5" height="1" fill="#ff0000"/>
<polyline points="5.5,36.5 24.5,37.7 26.5,38.5 92.5,43.0 185.5,49.2 258.5,56.0 277.5,56.8 314.5,59.7 330.5,60.9 347.5,62.1 371.5,63.8 400.5,65.7 426.3,67.6 458.3,69.8 498.8,73.0 539.1,76.1 643.0,86.5 746.9,95.8 769.8,97.8 816.0,102.9 871.4,109.4 931.5,123.2 1000.5,135.1 1070.0,147.5 1100.5,153.4 1239.1,182.1 1377.5,209.8 1516.2,237.5 1668.5,269.4" fill="none" stroke="#ff0000" stroke-width="1"/>
<polyline points="5.5,128.0 17.5,127.0 41.5,125.5 81.5,120.9 125.5,111.0 153.5,105.1 181.5,99.7 196.5,98.0 217.5,97.9 229.5,96.0 253.5,93.1 281.5,88.5 310.0,84.7 338.5,80.2 357.0,79.0 371.5,77.6 381.5,75.6 401.5,76.7 418.5,79.4 440.2,83.6 456.2,86.8 472.1,90.6 488.1,95.4 498.5,100.2 511.5,105.0 525.3,110.5 543.4,119.0 566.0,129.1 588.5,136.5 611.1,145.5 637.5,157.9 648.2,159.2 658.8,163.0 674.3,164.8 697.2,164.6 729.2,163.7 743.1,163.0 748.5,160.8 761.2,160.5 767.5,159.8 778.0,158.1 794.4,156.8 810.5,157.4 825.7,158.1 838.3,160.0 853.3,166.2 860.5,169.4 868.5,174.1 873.5,179.1 878.5,185.1 884.6,193.2 890.6,200.2 895.6,207.2 900.6,213.2 910.7,224.3 935.8,254.7 960.9,279.8 973.7,290.5 984.8,300.2 995.5,310.5 1008.0,322.5 1020.5,331.9 1031.9,340.4 1038.2,345.9 1045.7,347.2 1054.5,345.7 1065.8,347.2 1077.0,350.9 1088.3,350.9 1094.5,349.7 1103.4,351.7 1119.3,354.4 1138.1,360.6 1153.2,368.1 1179.5,380.4 1202.1,387.9 1221.0,391.7 1237.9,396.6 1249.9,401.9 1268.5,413.4 1280.5,421.3 1291.0,426.6 1304.2,432.5 1317.3,434.8 1343.7,435.8 1356.9,439.5 1370.0,443.1 1383.2,446.4 1391.7,446.9 1404.9,451.1 1417.1,450.7 1426.5,449.0 1439.7,448.8 1445.4,446.9 1458.5,444.8 1487.7,444.8 1494.3,446.9 1507.5,448.7 1536.9,449.9 1544.5,447.9 1558.5,447.7 1568.4,445.3 1578.2,444.0 1595.8,443.3 1605.5,443.8 1610.5,445.0 1625.3,444.8 1635.5,445.9 1650.8,447.9 1669.5,447.9" fill="none" stroke="#ffa500" stroke-width="1"/>
<polyline points="5.5,116.9 18.5,117.8 34.5,118.7 58.5,120.0 113.5,120.0 121.5,117.8 125.5,117.8 153.5,116.2 178.2,114.0 194.2,112.6 217.5,112.0 242.2,111.0 253.5,111.0 281.5,107.1 310.0,103.7 338.2,100.2 366.5,96.5 383.5,94.8 401.5,93.0 426.3,91.6 449.5,90.9 474.3,91.6 498.5,92.7 514.8,93.1 545.5,96.0 573.7,100.3 600.5,106.0 621.3,110.8 639.5,113.9 650.3,115.8 666.3,118.2 682.3,120.3 698.3,122.4 714.3,125.1 730.3,128.1 746.3,131.5 767.5,135.8 788.7,140.5 809.4,144.9 828.2,148.7 847.1,153.0 860.5,156.8 864.5,157.3 870.5,159.0 876.5,162.0 886.6,169.6 892.6,173.1 904.7,179.1 916.7,185.1 924.7,190.1 936.8,195.7 950.8,202.2 964.9,208.2 980.9,214.2 1000.5,221.9 1023.1,230.7 1045.7,240.9 1068.3,251.1 1090.8,260.7 1113.4,271.4 1136.0,283.3 1160.5,296.8 1175.8,307.0 1213.4,327.7 1236.0,342.7 1279.3,371.0 1300.2,380.5 1313.2,387.0 1337.7,388.8 1351.5,391.7 1370.0,396.3 1382.8,400.1 1391.5,401.8 1401.1,406.0 1417.1,410.7 1435.9,415.8 1454.8,419.4 1473.5,423.6 1492.4,426.7 1507.5,428.9 1520.3,429.8 1533.0,434.0 1546.8,435.9 1563.5,438.9 1578.2,440.8 1593.9,442.0 1610.5,442.8 1626.3,444.8 1643.0,446.9 1658.7,447.9 1669.5,447.9" fill="none" stroke="#ff00ff" stroke-width="1"/>
<rect x="5" y="341" width="1685" height="2" fill="#ff0000"/>
<rect x="5" y="389" width="1685" height="2" fill="#ff0000"/>
<rect x="5" y="436" width="1685" height="2" fill="#32cd32"/>
<rect x="5" y="483" width="1685" height="2" fill="#4169e1"/>
</g>
<path d="M8,44 L15,44 L11.5,48 Z" fill="#000" shape-rendering="auto"/>
<text x="20.6" y="49" textLength="42.2" lengthAdjust="spacingAndGlyphs" fill="#000" font-size="9.3" stroke="#000" stroke-width="0.12">UKOil-,H4</text>
<text x="69.2" y="49" textLength="120.6" lengthAdjust="spacingAndGlyphs" fill="#000" font-size="9.3" stroke="#000" stroke-width="0.12">26.590 26.780 26.430 26.640</text>
<text x="333" y="288" fill="#ff1a00" font-size="32.5" font-family="'Liberation Sans', 'Noto Sans CJK SC', sans-serif">多空转折点</text>
<text x="493.9" y="287" fill="#ff1a00" font-size="34.8" textLength="37.4" lengthAdjust="spacingAndGlyphs" font-family="'Liberation Sans', 'Noto Sans CJK SC', sans-serif">28</text>
<g clip-path="url(#cax)">
<rect x="1691" y="57" width="2" height="1" fill="#000"/>
<text transform="translate(1695,61) scale(0.9,1)" fill="#000" font-size="9.3" stroke="#000" stroke-width="0.12">60.170</text>
<rect x="1691" y="90" width="2" height="1" fill="#000"/>
<text transform="translate(1695,94) scale(0.9,1)" fill="#000" font-size="9.3" stroke="#000" stroke-width="0.12">57.370</text>
<rect x="1691" y="123" width="2" height="1" fill="#000"/>
<text transform="translate(1695,127) scale(0.9,1)" fill="#000" font-size="9.3" stroke="#000" stroke-width="0.12">54.570</text>
<rect x="1691" y="156" width="2" height="1" fill="#000"/>
<text transform="translate(1695,160) scale(0.9,1)" fill="#000" font-size="9.3" stroke="#000" stroke-width="0.12">51.770</text>
<rect x="1691" y="189" width="2" height="1" fill="#000"/>
<text transform="translate(1695,193) scale(0.9,1)" fill="#000" font-size="9.3" stroke="#000" stroke-width="0.12">48.970</text>
<rect x="1691" y="222" width="2" height="1" fill="#000"/>
<text transform="translate(1695,226) scale(0.9,1)" fill="#000" font-size="9.3" stroke="#000" stroke-width="0.12">46.170</text>
<rect x="1691" y="255" width="2" height="1" fill="#000"/>
<text transform="translate(1695,259) scale(0.9,1)" fill="#000" font-size="9.3" stroke="#000" stroke-width="0.12">43.370</text>
<rect x="1691" y="288" width="2" height="1" fill="#000"/>
<text transform="translate(1695,292) scale(0.9,1)" fill="#000" font-size="9.3" stroke="#000" stroke-width="0.12">40.570</text>
<rect x="1691" y="321" width="2" height="1" fill="#000"/>
<text transform="translate(1695,325) scale(0.9,1)" fill="#000" font-size="9.3" stroke="#000" stroke-width="0.12">37.770</text>
<rect x="1691" y="354" width="2" height="1" fill="#000"/>
<text transform="translate(1695,358) scale(0.9,1)" fill="#000" font-size="9.3" stroke="#000" stroke-width="0.12">34.970</text>
<rect x="1691" y="419" width="2" height="1" fill="#000"/>
<text transform="translate(1695,423) scale(0.9,1)" fill="#000" font-size="9.3" stroke="#000" stroke-width="0.12">29.450</text>
<rect x="1691" y="485" width="2" height="1" fill="#000"/>
<text transform="translate(1695,489) scale(0.9,1)" fill="#000" font-size="9.3" stroke="#000" stroke-width="0.12">23.850</text>
<rect x="1691" y="341" width="2" height="1" fill="#000"/>
<rect x="1692" y="336" width="36" height="11" fill="#ff0000"/>
<text transform="translate(1695.5,345) scale(0.9,1)" fill="#fff" font-size="9.3">36.000</text>
<rect x="1691" y="389" width="2" height="1" fill="#000"/>
<rect x="1692" y="384" width="36" height="11" fill="#ff0000"/>
<text transform="translate(1695.5,393) scale(0.9,1)" fill="#fff" font-size="9.3">32.000</text>
<rect x="1691" y="436" width="2" height="1" fill="#000"/>
<rect x="1692" y="431" width="36" height="11" fill="#32cd32"/>
<text transform="translate(1695.5,440) scale(0.9,1)" fill="#fff" font-size="9.3">28.000</text>
<rect x="1691" y="453" width="2" height="1" fill="#000"/>
<rect x="1692" y="448" width="36" height="11" fill="#000000"/>
<text transform="translate(1695.5,457) scale(0.9,1)" fill="#fff" font-size="9.3">26.640</text>
<rect x="1691" y="483" width="2" height="1" fill="#000"/>
<rect x="1692" y="478" width="36" height="11" fill="#4169e1"/>
<text transform="translate(1695.5,487) scale(0.9,1)" fill="#fff" font-size="9.3">24.000</text>
</g>
<g clip-path="url(#cd)">
<rect x="5" y="518" width="1" height="1" fill="#c0c0c0"/>
<rect x="13" y="518" width="1" height="1" fill="#c0c0c0"/>
<rect x="21" y="518" width="1" height="1" fill="#c0c0c0"/>
<rect x="29" y="516" width="1" height="3" fill="#c0c0c0"/>
<rect x="37" y="513" width="1" height="6" fill="#c0c0c0"/>
<rect x="45" y="512" width="1" height="7" fill="#c0c0c0"/>
<rect x="53" y="513" width="1" height="6" fill="#c0c0c0"/>
<rect x="61" y="513" width="1" height="6" fill="#c0c0c0"/>
<rect x="69" y="512" width="1" height="7" fill="#c0c0c0"/>
<rect x="77" y="510" width="1" height="9" fill="#c0c0c0"/>
<rect x="85" y="509" width="1" height="10" fill="#c0c0c0"/>
<rect x="93" y="508" width="1" height="11" fill="#c0c0c0"/>
<rect x="101" y="508" width="1" height="11" fill="#c0c0c0"/>
<rect x="109" y="506" width="1" height="13" fill="#c0c0c0"/>
<rect x="117" y="506" width="1" height="13" fill="#c0c0c0"/>
<rect x="125" y="505" width="1" height="14" fill="#c0c0c0"/>
<rect x="133" y="505" width="1" height="14" fill="#c0c0c0"/>
<rect x="141" y="505" width="1" height="14" fill="#c0c0c0"/>
<rect x="149" y="505" width="1" height="14" fill="#c0c0c0"/>
<rect x="157" y="505" width="1" height="14" fill="#c0c0c0"/>
<rect x="165" y="504" width="1" height="15" fill="#c0c0c0"/>
<rect x="173" y="503" width="1" height="16" fill="#c0c0c0"/>
<rect x="181" y="503" width="1" height="16" fill="#c0c0c0"/>
<rect x="189" y="503" width="1" height="16" fill="#c0c0c0"/>
<rect x="197" y="504" width="1" height="15" fill="#c0c0c0"/>
<rect x="205" y="505" width="1" height="14" fill="#c0c0c0"/>
<rect x="213" y="509" width="1" height="10" fill="#c0c0c0"/>
<rect x="221" y="510" width="1" height="9" fill="#c0c0c0"/>
<rect x="229" y="509" width="1" height="10" fill="#c0c0c0"/>
<rect x="237" y="506" width="1" height="13" fill="#c0c0c0"/>
<rect x="245" y="506" width="1" height="13" fill="#c0c0c0"/>
<rect x="253" y="505" width="1" height="14" fill="#c0c0c0"/>
<rect x="261" y="505" width="1" height="14" fill="#c0c0c0"/>
<rect x="269" y="504" width="1" height="15" fill="#c0c0c0"/>
<rect x="277" y="502" width="1" height="17" fill="#c0c0c0"/>
<rect x="285" y="501" width="1" height="18" fill="#c0c0c0"/>
<rect x="293" y="500" width="1" height="19" fill="#c0c0c0"/>
<rect x="301" y="501" width="1" height="18" fill="#c0c0c0"/>
<rect x="309" y="500" width="1" height="19" fill="#c0c0c0"/>
<rect x="317" y="500" width="1" height="19" fill="#c0c0c0"/>
<rect x="325" y="501" width="1" height="18" fill="#c0c0c0"/>
<rect x="333" y="501" width="1" height="18" fill="#c0c0c0"/>
<rect x="341" y="503" width="1" height="16" fill="#c0c0c0"/>
<rect x="349" y="504" width="1" height="15" fill="#c0c0c0"/>
<rect x="357" y="506" width="1" height="13" fill="#c0c0c0"/>
<rect x="365" y="508" width="1" height="11" fill="#c0c0c0"/>
<rect x="373" y="510" width="1" height="9" fill="#c0c0c0"/>
<rect x="381" y="511" width="1" height="8" fill="#c0c0c0"/>
<rect x="389" y="515" width="1" height="4" fill="#c0c0c0"/>
<rect x="397" y="517" width="1" height="2" fill="#c0c0c0"/>
<rect x="405" y="518" width="1" height="1" fill="#c0c0c0"/>
<rect x="413" y="518" width="1" height="6" fill="#c0c0c0"/>
<rect x="421" y="518" width="1" height="10" fill="#c0c0c0"/>
<rect x="429" y="518" width="1" height="11" fill="#c0c0c0"/>
<rect x="437" y="518" width="1" height="12" fill="#c0c0c0"/>
<rect x="445" y="518" width="1" height="11" fill="#c0c0c0"/>
<rect x="453" y="518" width="1" height="12" fill="#c0c0c0"/>
<rect x="461" y="518" width="1" height="11" fill="#c0c0c0"/>
<rect x="469" y="518" width="1" height="13" fill="#c0c0c0"/>
<rect x="477" y="518" width="1" height="15" fill="#c0c0c0"/>
<rect x="485" y="518" width="1" height="18" fill="#c0c0c0"/>
<rect x="493" y="518" width="1" height="21" fill="#c0c0c0"/>
<rect x="501" y="518" width="1" height="23" fill="#c0c0c0"/>
<rect x="509" y="518" width="1" height="25" fill="#c0c0c0"/>
<rect x="517" y="518" width="1" height="27" fill="#c0c0c0"/>
<rect x="525" y="518" width="1" height="30" fill="#c0c0c0"/>
<rect x="533" y="518" width="1" height="32" fill="#c0c0c0"/>
<rect x="541" y="518" width="1" height="33" fill="#c0c0c0"/>
<rect x="549" y="518" width="1" height="36" fill="#c0c0c0"/>
<rect x="557" y="518" width="1" height="37" fill="#c0c0c0"/>
<rect x="565" y="518" width="1" height="37" fill="#c0c0c0"/>
<rect x="573" y="518" width="1" height="38" fill="#c0c0c0"/>
<rect x="581" y="518" width="1" height="40" fill="#c0c0c0"/>
<rect x="589" y="518" width="1" height="40" fill="#c0c0c0"/>
<rect x="597" y="518" width="1" height="40" fill="#c0c0c0"/>
<rect x="605" y="518" width="1" height="41" fill="#c0c0c0"/>
<rect x="613" y="518" width="1" height="40" fill="#c0c0c0"/>
<rect x="621" y="518" width="1" height="40" fill="#c0c0c0"/>
<rect x="629" y="518" width="1" height="40" fill="#c0c0c0"/>
<rect x="637" y="518" width="1" height="36" fill="#c0c0c0"/>
<rect x="645" y="518" width="1" height="31" fill="#c0c0c0"/>
<rect x="653" y="518" width="1" height="31" fill="#c0c0c0"/>
<rect x="661" y="518" width="1" height="29" fill="#c0c0c0"/>
<rect x="669" y="518" width="1" height="25" fill="#c0c0c0"/>
<rect x="677" y="518" width="1" height="18" fill="#c0c0c0"/>
<rect x="685" y="518" width="1" height="14" fill="#c0c0c0"/>
<rect x="693" y="518" width="1" height="11" fill="#c0c0c0"/>
<rect x="701" y="518" width="1" height="8" fill="#c0c0c0"/>
<rect x="709" y="518" width="1" height="6" fill="#c0c0c0"/>
<rect x="717" y="518" width="1" height="6" fill="#c0c0c0"/>
<rect x="725" y="518" width="1" height="6" fill="#c0c0c0"/>
<rect x="733" y="518" width="1" height="5" fill="#c0c0c0"/>
<rect x="741" y="518" width="1" height="4" fill="#c0c0c0"/>
<rect x="749" y="518" width="1" height="2" fill="#c0c0c0"/>
<rect x="757" y="518" width="1" height="4" fill="#c0c0c0"/>
<rect x="765" y="518" width="1" height="5" fill="#c0c0c0"/>
<rect x="773" y="518" width="1" height="5" fill="#c0c0c0"/>
<rect x="781" y="518" width="1" height="5" fill="#c0c0c0"/>
<rect x="789" y="518" width="1" height="5" fill="#c0c0c0"/>
<rect x="797" y="518" width="1" height="5" fill="#c0c0c0"/>
<rect x="805" y="518" width="1" height="6" fill="#c0c0c0"/>
<rect x="813" y="518" width="1" height="9" fill="#c0c0c0"/>
<rect x="821" y="518" width="1" height="11" fill="#c0c0c0"/>
<rect x="829" y="518" width="1" height="13" fill="#c0c0c0"/>
<rect x="837" y="518" width="1" height="15" fill="#c0c0c0"/>
<rect x="845" y="518" width="1" height="20" fill="#c0c0c0"/>
<rect x="853" y="518" width="1" height="27" fill="#c0c0c0"/>
<rect x="861" y="518" width="1" height="33" fill="#c0c0c0"/>
<rect x="869" y="518" width="1" height="37" fill="#c0c0c0"/>
<rect x="877" y="518" width="1" height="59" fill="#c0c0c0"/>
<rect x="885" y="518" width="1" height="81" fill="#c0c0c0"/>
<rect x="893" y="518" width="1" height="95" fill="#c0c0c0"/>
<rect x="901" y="518" width="1" height="103" fill="#c0c0c0"/>
<rect x="909" y="518" width="1" height="104" fill="#c0c0c0"/>
<rect x="917" y="518" width="1" height="108" fill="#c0c0c0"/>
<rect x="925" y="518" width="1" height="112" fill="#c0c0c0"/>
<rect x="933" y="518" width="1" height="108" fill="#c0c0c0"/>
<rect x="941" y="518" width="1" height="105" fill="#c0c0c0"/>
<rect x="949" y="518" width="1" height="98" fill="#c0c0c0"/>
<rect x="957" y="518" width="1" height="94" fill="#c0c0c0"/>
<rect x="965" y="518" width="1" height="87" fill="#c0c0c0"/>
<rect x="973" y="518" width="1" height="81" fill="#c0c0c0"/>
<rect x="981" y="518" width="1" height="73" fill="#c0c0c0"/>
<rect x="989" y="518" width="1" height="70" fill="#c0c0c0"/>
<rect x="997" y="518" width="1" height="67" fill="#c0c0c0"/>
<rect x="1005" y="518" width="1" height="65" fill="#c0c0c0"/>
<rect x="1013" y="518" width="1" height="64" fill="#c0c0c0"/>
<rect x="1021" y="518" width="1" height="60" fill="#c0c0c0"/>
<rect x="1029" y="518" width="1" height="63" fill="#c0c0c0"/>
<rect x="1037" y="518" width="1" height="63" fill="#c0c0c0"/>
<rect x="1045" y="518" width="1" height="63" fill="#c0c0c0"/>
<rect x="1053" y="518" width="1" height="63" fill="#c0c0c0"/>
<rect x="1061" y="518" width="1" height="63" fill="#c0c0c0"/>
<rect x="1069" y="518" width="1" height="63" fill="#c0c0c0"/>
<rect x="1077" y="518" width="1" height="61" fill="#c0c0c0"/>
<rect x="1085" y="518" width="1" height="56" fill="#c0c0c0"/>
<rect x="1093" y="518" width="1" height="50" fill="#c0c0c0"/>
<rect x="1101" y="518" width="1" height="49" fill="#c0c0c0"/>
<rect x="1109" y="518" width="1" height="45" fill="#c0c0c0"/>
<rect x="1117" y="518" width="1" height="40" fill="#c0c0c0"/>
<rect x="1125" y="518" width="1" height="42" fill="#c0c0c0"/>
<rect x="1133" y="518" width="1" height="41" fill="#c0c0c0"/>
<rect x="1141" y="518" width="1" height="42" fill="#c0c0c0"/>
<rect x="1149" y="518" width="1" height="45" fill="#c0c0c0"/>
<rect x="1157" y="518" width="1" height="45" fill="#c0c0c0"/>
<rect x="1165" y="518" width="1" height="49" fill="#c0c0c0"/>
<rect x="1173" y="518" width="1" height="50" fill="#c0c0c0"/>
<rect x="1181" y="518" width="1" height="49" fill="#c0c0c0"/>
<rect x="1189" y="518" width="1" height="47" fill="#c0c0c0"/>
<rect x="1197" y="518" width="1" height="46" fill="#c0c0c0"/>
<rect x="1205" y="518" width="1" height="46" fill="#c0c0c0"/>
<rect x="1213" y="518" width="1" height="47" fill="#c0c0c0"/>
<rect x="1221" y="518" width="1" height="48" fill="#c0c0c0"/>
<rect x="1229" y="518" width="1" height="47" fill="#c0c0c0"/>
<rect x="1237" y="518" width="1" height="47" fill="#c0c0c0"/>
<rect x="1245" y="518" width="1" height="47" fill="#c0c0c0"/>
<rect x="1253" y="518" width="1" height="51" fill="#c0c0c0"/>
<rect x="1261" y="518" width="1" height="53" fill="#c0c0c0"/>
<rect x="1269" y="518" width="1" height="53" fill="#c0c0c0"/>
<rect x="1277" y="518" width="1" height="56" fill="#c0c0c0"/>
<rect x="1285" y="518" width="1" height="54" fill="#c0c0c0"/>
<rect x="1293" y="518" width="1" height="53" fill="#c0c0c0"/>
<rect x="1301" y="518" width="1" height="51" fill="#c0c0c0"/>
<rect x="1309" y="518" width="1" height="46" fill="#c0c0c0"/>
<rect x="1317" y="518" width="1" height="41" fill="#c0c0c0"/>
<rect x="1325" y="518" width="1" height="35" fill="#c0c0c0"/>
<rect x="1333" y="518" width="1" height="28" fill="#c0c0c0"/>
<rect x="1341" y="518" width="1" height="24" fill="#c0c0c0"/>
<rect x="1349" y="518" width="1" height="24" fill="#c0c0c0"/>
<rect x="1357" y="518" width="1" height="23" fill="#c0c0c0"/>
<rect x="1365" y="518" width="1" height="22" fill="#c0c0c0"/>
<rect x="1373" y="518" width="1" height="25" fill="#c0c0c0"/>
<rect x="1381" y="518" width="1" height="27" fill="#c0c0c0"/>
<rect x="1389" y="518" width="1" height="27" fill="#c0c0c0"/>
<rect x="1397" y="518" width="1" height="28" fill="#c0c0c0"/>
<rect x="1405" y="518" width="1" height="28" fill="#c0c0c0"/>
<rect x="1413" y="518" width="1" height="24" fill="#c0c0c0"/>
<rect x="1421" y="518" width="1" height="21" fill="#c0c0c0"/>
<rect x="1429" y="518" width="1" height="18" fill="#c0c0c0"/>
<rect x="1437" y="518" width="1" height="15" fill="#c0c0c0"/>
<rect x="1445" y="518" width="1" height="13" fill="#c0c0c0"/>
<rect x="1453" y="518" width="1" height="11" fill="#c0c0c0"/>
<rect x="1461" y="518" width="1" height="10" fill="#c0c0c0"/>
<rect x="1469" y="518" width="1" height="9" fill="#c0c0c0"/>
<rect x="1477" y="518" width="1" height="8" fill="#c0c0c0"/>
<rect x="1485" y="518" width="1" height="7" fill="#c0c0c0"/>
<rect x="1493" y="518" width="1" height="9" fill="#c0c0c0"/>
<rect x="1501" y="518" width="1" height="9" fill="#c0c0c0"/>
<rect x="1509" y="518" width="1" height="7" fill="#c0c0c0"/>
<rect x="1517" y="518" width="1" height="6" fill="#c0c0c0"/>
<rect x="1525" y="518" width="1" height="6" fill="#c0c0c0"/>
<rect x="1533" y="518" width="1" height="6" fill="#c0c0c0"/>
<rect x="1541" y="518" width="1" height="6" fill="#c0c0c0"/>
<rect x="1549" y="518" width="1" height="5" fill="#c0c0c0"/>
<rect x="1557" y="518" width="1" height="5" fill="#c0c0c0"/>
<rect x="1565" y="518" width="1" height="3" fill="#c0c0c0"/>
<rect x="1573" y="518" width="1" height="1" fill="#c0c0c0"/>
<rect x="1581" y="517" width="1" height="2" fill="#c0c0c0"/>
<rect x="1589" y="518" width="1" height="1" fill="#c0c0c0"/>
<rect x="1597" y="518" width="1" height="1" fill="#c0c0c0"/>
<rect x="1605" y="517" width="1" height="2" fill="#c0c0c0"/>
<rect x="1613" y="518" width="1" height="1" fill="#c0c0c0"/>
<rect x="1621" y="518" width="1" height="1" fill="#c0c0c0"/>
<rect x="1629" y="518" width="1" height="3" fill="#c0c0c0"/>
<rect x="1637" y="518" width="1" height="5" fill="#c0c0c0"/>
<rect x="1645" y="518" width="1" height="6" fill="#c0c0c0"/>
<rect x="1653" y="518" width="1" height="8" fill="#c0c0c0"/>
<rect x="1661" y="518" width="1" height="8" fill="#c0c0c0"/>
<rect x="1669" y="518" width="1" height="8" fill="#c0c0c0"/>
<polyline points="5.5,528.9 29.5,524.0 53.5,518.4 78.1,513.5 102.3,510.6 126.5,507.9 146.0,505.4 170.2,504.1 210.5,504.1 234.9,506.7 259.1,507.4 270.5,507.0 290.7,505.0 310.9,502.6 331.1,501.0 351.3,501.0 371.5,503.0 391.7,505.6 411.9,510.7 432.1,517.8 452.4,524.4 472.5,528.5 492.8,531.9 513.0,535.9 533.2,541.0 553.4,546.0 573.6,551.1 593.8,554.1 610.5,556.7 646.9,556.7 663.0,554.5 679.2,550.1 695.4,543.6 711.5,535.9 731.7,529.9 751.9,525.4 782.3,523.4 802.5,522.8 822.7,524.8 844.9,528.2 865.1,535.9 879.2,544.0 893.4,559.1 909.5,578.3 925.7,596.5 941.9,612.7 950.0,619.2 960.5,620.8 970.7,618.8 990.9,609.7 1011.1,596.5 1031.3,587.4 1051.5,582.8 1071.7,580.8 1091.9,578.7 1112.1,573.9 1132.4,568.6 1152.5,563.8 1172.8,561.8 1193.0,563.8 1233.4,565.2 1257.6,565.2 1277.8,567.8 1300.5,569.9 1318.2,568.9 1336.7,563.6 1359.8,552.8 1382.9,545.2 1394.4,543.3 1429.1,542.8 1452.2,539.4 1475.3,533.6 1498.4,529.0 1521.5,526.0 1567.6,524.6 1590.7,522.1 1613.8,520.0 1641.5,518.6 1650.8,520.0 1669.3,522.8" fill="none" stroke="#ff0000" stroke-width="1" stroke-dasharray="3,3"/>
</g>
<text x="9.2" y="504" textLength="133.5" lengthAdjust="spacingAndGlyphs" fill="#000" font-size="9.3" stroke="#000" stroke-width="0.12">MACD(12,26,9) -0.3020 -0.1726</text>
<text transform="translate(1693.7,502) scale(0.9,1)" fill="#000" font-size="9.3" stroke="#000" stroke-width="0.12">1.0446</text>
<text transform="translate(1693.7,522) scale(0.9,1)" fill="#000" font-size="9.3" stroke="#000" stroke-width="0.12">0.00</text>
<text transform="translate(1693.7,634) scale(0.9,1)" fill="#000" font-size="9.3" stroke="#000" stroke-width="0.12">-4.9417</text>
<rect x="1691" y="493" width="2" height="1" fill="#000"/>
<rect x="1691" y="518" width="2" height="1" fill="#000"/>
<rect x="1691" y="635" width="2" height="1" fill="#000"/>
<g clip-path="url(#cr)">
<line x1="6" y1="680.5" x2="1690" y2="680.5" stroke="#c0c0c0" stroke-dasharray="3,3"/>
<line x1="6" y1="733.5" x2="1690" y2="733.5" stroke="#c0c0c0" stroke-dasharray="3,3"/>
<polyline points="5.5,696.8 13.5,698.7 21.5,689.0 29.5,686.6 37.5,684.1 45.5,695.1 53.5,703.5 61.5,701.6 69.5,691.4 77.5,689.0 85.5,689.7 93.5,691.4 101.5,689.7 109.5,684.1 117.5,686.6 125.5,684.1 133.5,684.1 141.5,685.6 149.5,687.8 157.5,685.4 165.5,690.7 173.5,689.0 181.5,686.1 189.5,686.6 197.5,698.7 205.5,703.5 213.5,710.8 221.5,697.5 229.5,691.9 237.5,691.9 245.5,685.4 253.5,689.5 261.5,686.1 269.5,681.2 277.5,682.2 285.5,680.0 293.5,681.7 301.5,684.9 309.5,681.0 317.5,684.9 325.5,684.1 333.5,689.0 341.5,693.4 349.5,697.5 357.5,706.5 365.5,706.0 373.5,704.8 381.5,705.5 389.5,726.6 397.5,724.2 405.5,729.0 413.5,733.9 421.5,739.4 429.5,726.6 437.5,724.2 445.5,720.0 453.5,721.0 461.5,722.5 469.5,729.7 477.5,733.9 485.5,738.0 493.5,743.6 501.5,744.8 509.5,741.9 517.5,745.3 525.5,746.0 533.5,750.1 541.5,742.8 549.5,747.7 557.5,744.8 565.5,744.8 573.5,746.7 581.5,750.1 589.5,747.7 597.5,744.3 605.5,747.7 613.5,743.6 621.5,742.8 629.5,746.7 637.5,718.1 645.5,715.7 653.5,726.6 661.5,715.7 669.5,709.1 677.5,700.6 685.5,701.6 693.5,704.0 701.5,704.0 709.5,706.5 717.5,709.6 725.5,712.8 733.5,704.0 741.5,710.8 749.5,703.1 757.5,714.5 765.5,712.8 773.5,712.8 781.5,709.6 789.5,713.7 797.5,715.2 805.5,718.6 813.5,724.2 821.5,721.7 829.5,725.9 837.5,729.0 845.5,738.0 853.5,742.3 861.5,744.8 869.5,746.0 877.5,760.5 885.5,763.0 893.5,753.3 901.5,744.8 909.5,737.0 917.5,740.4 925.5,742.8 933.5,726.6 941.5,729.0 949.5,720.5 957.5,724.9 965.5,720.0 973.5,720.0 981.5,716.9 989.5,721.0 997.5,724.2 1005.5,724.2 1013.5,724.2 1021.5,724.2 1029.5,729.7 1037.5,730.2 1045.5,731.4 1053.5,732.2 1061.5,733.1 1069.5,733.1 1077.5,731.4 1085.5,718.6 1093.5,716.9 1101.5,724.2 1109.5,716.2 1117.5,713.7 1125.5,724.9 1133.5,721.7 1141.5,725.4 1149.5,730.7 1157.5,726.6 1165.5,730.7 1173.5,730.7 1181.5,724.2 1189.5,721.7 1197.5,726.6 1205.5,724.9 1213.5,730.7 1221.5,728.3 1229.5,726.6 1237.5,728.1 1245.5,732.1 1253.5,737.5 1261.5,737.5 1269.5,734.8 1277.5,738.8 1285.5,729.5 1293.5,732.1 1301.5,723.4 1309.5,713.5 1317.5,714.9 1325.5,707.4 1333.5,703.7 1341.5,707.4 1349.5,718.1 1357.5,716.2 1365.5,718.1 1373.5,726.0 1381.5,719.7 1389.5,719.7 1397.5,722.8 1405.5,722.8 1413.5,710.9 1421.5,709.0 1429.5,709.0 1437.5,706.9 1445.5,706.9 1453.5,709.6 1461.5,712.7 1469.5,708.2 1477.5,706.9 1485.5,708.2 1493.5,717.5 1501.5,713.5 1509.5,706.9 1517.5,708.2 1525.5,710.1 1533.5,714.9 1541.5,710.9 1549.5,710.9 1557.5,716.2 1565.5,696.8 1573.5,699.5 1581.5,701.6 1589.5,709.0 1597.5,704.8 1605.5,702.9 1613.5,712.2 1621.5,713.5 1629.5,717.0 1637.5,714.9 1645.5,717.0 1653.5,714.9 1661.5,714.3 1669.5,711.7" fill="none" stroke="#1e90ff" stroke-width="1"/>
</g>
<text x="9.2" y="652" textLength="67.9" lengthAdjust="spacingAndGlyphs" fill="#000" font-size="9.3" stroke="#000" stroke-width="0.12">RSI(14) 46.5270</text>
<text transform="translate(1693.7,650) scale(0.9,1)" fill="#000" font-size="9.3" stroke="#000" stroke-width="0.12">100</text>
<rect x="1691" y="640" width="2" height="1" fill="#000"/>
<text transform="translate(1693.7,684) scale(0.9,1)" fill="#000" font-size="9.3" stroke="#000" stroke-width="0.12">70</text>
<text transform="translate(1693.7,737) scale(0.9,1)" fill="#000" font-size="9.3" stroke="#000" stroke-width="0.12">30</text>
<text transform="translate(1693.7,770) scale(0.9,1)" fill="#000" font-size="9.3" stroke="#000" stroke-width="0.12">0</text>
<rect x="1691" y="772" width="2" height="1" fill="#000"/>
<rect x="5" y="774" width="1" height="3" fill="#000"/>
<text transform="translate(4.5,785.5) scale(0.9,1)" fill="#000" font-size="9.3" stroke="#000" stroke-width="0.12">12 Feb 2020</text>
<rect x="69" y="774" width="1" height="3" fill="#000"/>
<text transform="translate(68.5,785.5) scale(0.9,1)" fill="#000" font-size="9.3" stroke="#000" stroke-width="0.12">13 Feb 13:00</text>
<rect x="133" y="774" width="1" height="3" fill="#000"/>
<text transform="translate(132.5,785.5) scale(0.9,1)" fill="#000" font-size="9.3" stroke="#000" stroke-width="0.12">14 Feb 21:00</text>
<rect x="197" y="774" width="1" height="3" fill="#000"/>
<text transform="translate(196.5,785.5) scale(0.9,1)" fill="#000" font-size="9.3" stroke="#000" stroke-width="0.12">18 Feb 01:00</text>
<rect x="261" y="774" width="1" height="3" fill="#000"/>
<text transform="translate(260.5,785.5) scale(0.9,1)" fill="#000" font-size="9.3" stroke="#000" stroke-width="0.12">19 Feb 09:00</text>
<rect x="325" y="774" width="1" height="3" fill="#000"/>
<text transform="translate(324.5,785.5) scale(0.9,1)" fill="#000" font-size="9.3" stroke="#000" stroke-width="0.12">20 Feb 17:00</text>
<rect x="389" y="774" width="1" height="3" fill="#000"/>
<text transform="translate(388.5,785.5) scale(0.9,1)" fill="#000" font-size="9.3" stroke="#000" stroke-width="0.12">23 Feb 23:00</text>
<rect x="453" y="774" width="1" height="3" fill="#000"/>
<text transform="translate(452.5,785.5) scale(0.9,1)" fill="#000" font-size="9.3" stroke="#000" stroke-width="0.12">25 Feb 05:00</text>
<rect x="517" y="774" width="1" height="3" fill="#000"/>
<text transform="translate(516.5,785.5) scale(0.9,1)" fill="#000" font-size="9.3" stroke="#000" stroke-width="0.12">26 Feb 17:00</text>
<rect x="581" y="774" width="1" height="3" fill="#000"/>
<text transform="translate(580.5,785.5) scale(0.9,1)" fill="#000" font-size="9.3" stroke="#000" stroke-width="0.12">28 Feb 01:00</text>
<rect x="645" y="774" width="1" height="3" fill="#000"/>
<text transform="translate(644.5,785.5) scale(0.9,1)" fill="#000" font-size="9.3" stroke="#000" stroke-width="0.12">2 Mar 04:00</text>
<rect x="709" y="774" width="1" height="3" fill="#000"/>
<text transform="translate(708.5,785.5) scale(0.9,1)" fill="#000" font-size="9.3" stroke="#000" stroke-width="0.12">3 Mar 13:00</text>
<rect x="773" y="774" width="1" height="3" fill="#000"/>
<text transform="translate(772.5,785.5) scale(0.9,1)" fill="#000" font-size="9.3" stroke="#000" stroke-width="0.12">4 Mar 21:00</text>
<rect x="837" y="774" width="1" height="3" fill="#000"/>
<text transform="translate(836.5,785.5) scale(0.9,1)" fill="#000" font-size="9.3" stroke="#000" stroke-width="0.12">6 Mar 05:00</text>
<rect x="901" y="774" width="1" height="3" fill="#000"/>
<text transform="translate(900.5,785.5) scale(0.9,1)" fill="#000" font-size="9.3" stroke="#000" stroke-width="0.12">9 Mar 08:00</text>
<rect x="965" y="774" width="1" height="3" fill="#000"/>
<text transform="translate(964.5,785.5) scale(0.9,1)" fill="#000" font-size="9.3" stroke="#000" stroke-width="0.12">10 Mar 16:00</text>
<rect x="1029" y="774" width="1" height="3" fill="#000"/>
<text transform="translate(1028.5,785.5) scale(0.9,1)" fill="#000" font-size="9.3" stroke="#000" stroke-width="0.12">12 Mar 00:00</text>
<rect x="1093" y="774" width="1" height="3" fill="#000"/>
<text transform="translate(1092.5,785.5) scale(0.9,1)" fill="#000" font-size="9.3" stroke="#000" stroke-width="0.12">13 Mar 08:00</text>
<rect x="1157" y="774" width="1" height="3" fill="#000"/>
<text transform="translate(1156.5,785.5) scale(0.9,1)" fill="#000" font-size="9.3" stroke="#000" stroke-width="0.12">16 Mar 12:00</text>
<rect x="1221" y="774" width="1" height="3" fill="#000"/>
<text transform="translate(1220.5,785.5) scale(0.9,1)" fill="#000" font-size="9.3" stroke="#000" stroke-width="0.12">17 Mar 20:00</text>
<rect x="1285" y="774" width="1" height="3" fill="#000"/>
<text transform="translate(1284.5,785.5) scale(0.9,1)" fill="#000" font-size="9.3" stroke="#000" stroke-width="0.12">19 Mar 04:00</text>
<rect x="1349" y="774" width="1" height="3" fill="#000"/>
<text transform="translate(1348.5,785.5) scale(0.9,1)" fill="#000" font-size="9.3" stroke="#000" stroke-width="0.12">20 Mar 12:00</text>
<rect x="1413" y="774" width="1" height="3" fill="#000"/>
<text transform="translate(1412.5,785.5) scale(0.9,1)" fill="#000" font-size="9.3" stroke="#000" stroke-width="0.12">23 Mar 16:00</text>
<rect x="1477" y="774" width="1" height="3" fill="#000"/>
<text transform="translate(1476.5,785.5) scale(0.9,1)" fill="#000" font-size="9.3" stroke="#000" stroke-width="0.12">25 Mar 00:00</text>
<rect x="1541" y="774" width="1" height="3" fill="#000"/>
<text transform="translate(1540.5,785.5) scale(0.9,1)" fill="#000" font-size="9.3" stroke="#000" stroke-width="0.12">26 Mar 08:00</text>
<rect x="1605" y="774" width="1" height="3" fill="#000"/>
<text transform="translate(1604.5,785.5) scale(0.9,1)" fill="#000" font-size="9.3" stroke="#000" stroke-width="0.12">27 Mar 20:00</text>
<rect x="1669" y="774" width="1" height="3" fill="#000"/>
<text transform="translate(1668.5,785.5) scale(0.9,1)" fill="#000" font-size="9.3" stroke="#000" stroke-width="0.12">31 Mar 00:00</text>
</svg>
</body></html>
